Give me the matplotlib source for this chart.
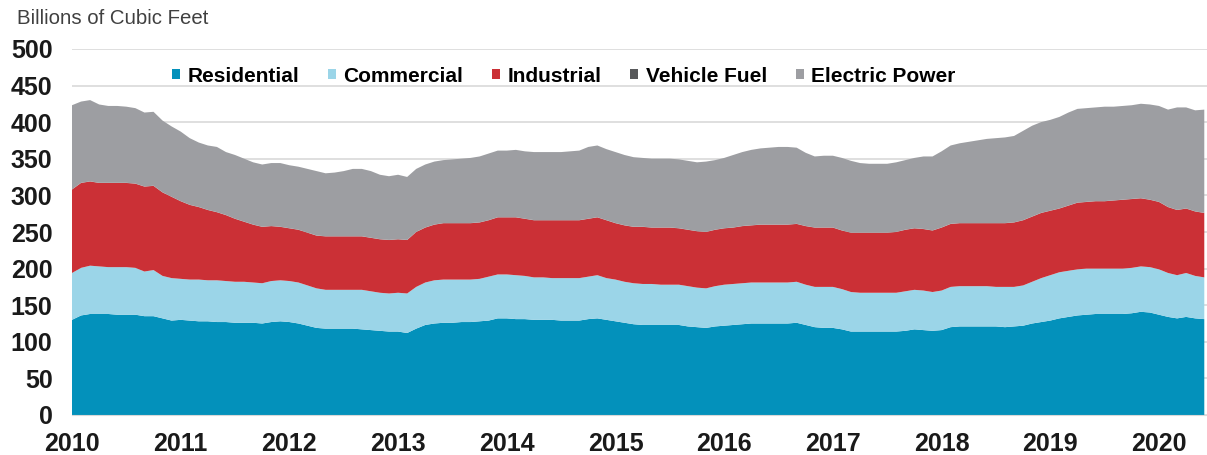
import numpy as np
import matplotlib
matplotlib.use("Agg")
import matplotlib.pyplot as plt

plt.rcParams['font.family'] = ['Liberation Sans', 'DejaVu Sans']

# monthly data, Jan 2010 .. Jun 2020 (Billions of Cubic Feet)
years = [2010, 2011, 2012, 2013, 2014, 2015, 2016, 2017, 2018, 2019, 2020]

residential = [
    130, 136, 138, 138, 138, 137, 137, 137, 135, 135, 132, 129,
    130, 129, 128, 128, 127, 127, 126, 126, 126, 125, 127, 128,
    127, 125, 122, 119, 118, 118, 118, 118, 117, 116, 115, 114,
    114, 112, 118, 123, 125, 126, 126, 127, 127, 128, 129, 132,
    132, 131, 131, 130, 130, 130, 129, 129, 129, 131, 132, 130,
    128, 126, 124, 123, 123, 123, 123, 123, 121, 120, 119, 121,
    122, 123, 124, 125, 125, 125, 125, 125, 126, 123, 120, 119,
    119, 117, 114, 114, 114, 114, 114, 114, 115, 117, 116, 115,
    116, 120, 121, 121, 121, 121, 121, 120, 121, 122, 125, 127,
    129, 132, 134, 136, 137, 138, 138, 138, 138, 139, 141, 140,
    137, 134, 132, 134, 132, 131,
]
commercial = [
    64, 65, 66, 65, 64, 65, 65, 64, 61, 63, 58, 58,
    56, 56, 57, 56, 57, 56, 56, 56, 55, 55, 56, 56,
    56, 56, 55, 54, 53, 53, 53, 53, 54, 53, 52, 52,
    53, 54, 57, 58, 59, 59, 59, 58, 58, 58, 60, 60,
    60, 60, 59, 58, 58, 57, 58, 58, 58, 58, 59, 57,
    57, 56, 56, 56, 56, 55, 55, 55, 55, 54, 54, 55,
    56, 56, 56, 56, 56, 56, 56, 56, 56, 55, 55, 56,
    56, 55, 54, 53, 53, 53, 53, 53, 54, 54, 54, 53,
    54, 55, 55, 55, 55, 55, 54, 55, 54, 55, 57, 60,
    62, 63, 63, 63, 63, 62, 62, 62, 62, 62, 62, 62,
    62, 60, 59, 60, 58, 57,
]
industrial = [
    114, 116, 115, 114, 115, 115, 115, 115, 116, 115, 114, 111,
    106, 102, 99, 96, 93, 90, 86, 82, 79, 77, 75, 73,
    72, 72, 72, 72, 73, 73, 73, 73, 73, 73, 73, 73,
    73, 73, 75, 75, 76, 77, 77, 77, 77, 77, 77, 78,
    78, 79, 78, 78, 78, 79, 79, 79, 79, 79, 79, 79,
    77, 77, 77, 78, 77, 78, 78, 77, 77, 77, 77, 77,
    77, 77, 78, 78, 79, 79, 79, 79, 79, 80, 81, 81,
    81, 80, 81, 82, 82, 82, 82, 83, 84, 84, 84, 84,
    86, 86, 86, 86, 86, 86, 87, 87, 88, 89, 89, 89,
    88, 87, 89, 91, 91, 92, 92, 93, 94, 94, 93, 92,
    92, 90, 89, 88, 88, 88,
]
vehicle_fuel = [
    0.2, 0.2, 0.2, 0.2, 0.2, 0.2, 0.2, 0.2, 0.2, 0.2, 0.2, 0.2,
    0.2, 0.2, 0.2, 0.2, 0.2, 0.2, 0.2, 0.2, 0.2, 0.2, 0.2, 0.2,
    0.2, 0.2, 0.2, 0.2, 0.2, 0.2, 0.2, 0.2, 0.2, 0.2, 0.2, 0.2,
    0.2, 0.2, 0.2, 0.2, 0.2, 0.2, 0.2, 0.2, 0.2, 0.2, 0.2, 0.2,
    0.2, 0.2, 0.2, 0.2, 0.2, 0.2, 0.2, 0.2, 0.2, 0.2, 0.2, 0.2,
    0.2, 0.2, 0.2, 0.2, 0.2, 0.2, 0.2, 0.2, 0.2, 0.2, 0.2, 0.2,
    0.2, 0.2, 0.2, 0.2, 0.2, 0.2, 0.2, 0.2, 0.2, 0.2, 0.2, 0.2,
    0.2, 0.2, 0.2, 0.2, 0.2, 0.2, 0.2, 0.2, 0.2, 0.2, 0.2, 0.2,
    0.2, 0.2, 0.2, 0.2, 0.2, 0.2, 0.2, 0.2, 0.2, 0.2, 0.2, 0.2,
    0.2, 0.2, 0.2, 0.2, 0.2, 0.2, 0.2, 0.2, 0.2, 0.2, 0.2, 0.2,
    0.2, 0.2, 0.2, 0.2, 0.2, 0.2,
]
electric_power = [
    115, 111, 111, 107, 105, 105, 104, 103, 101, 101, 98, 96,
    95, 91, 88, 88, 89, 86, 87, 86, 85, 85, 86, 87,
    86, 86, 87, 88, 86, 87, 89, 92, 92, 91, 88, 87,
    88, 86, 86, 86, 86, 86, 87, 88, 89, 90, 91, 91,
    91, 92, 92, 93, 93, 93, 93, 94, 95, 98, 98, 97,
    97, 96, 95, 94, 94, 94, 94, 94, 94, 94, 96, 95,
    96, 99, 101, 103, 104, 105, 106, 106, 104, 100, 97, 98,
    98, 99, 98, 95, 94, 94, 94, 95, 95, 96, 99, 101,
    104, 107, 109, 111, 113, 115, 116, 117, 118, 122, 124, 124,
    124, 125, 127, 128, 128, 128, 129, 128, 128, 128, 129, 130,
    131, 133, 140, 138, 138, 141,
]

labels = ['Residential', 'Commercial', 'Industrial', 'Vehicle Fuel', 'Electric Power']
colors = ['#0391bb', '#9bd5e8', '#cb3036', '#58595b', '#9d9ea2']

months = np.arange(len(residential))

fig = plt.figure(figsize=(12.07, 4.55), dpi=100)
ax = fig.add_axes([72 / 1207, 1 - 415 / 455, 1 - 72 / 1207, (415 - 49) / 455])

ax.stackplot(months, residential, commercial, industrial, vehicle_fuel, electric_power,
             colors=colors, labels=labels, linewidth=0, zorder=2)

ax.set_ylim(0, 500)
ax.set_xlim(0, 125.3)
ax.set_yticks(np.arange(0, 501, 50))
ax.set_xticks([12 * (y - 2010) for y in years])
ax.set_xticklabels([str(y) for y in years])
ax.grid(axis='y', color='#d9d9d9', linewidth=1.2, zorder=0)
ax.set_axisbelow(True)
for s in ['top', 'right', 'left']:
    ax.spines[s].set_visible(False)
ax.spines['bottom'].set_color('#d9d9d9')
ax.tick_params(length=0)
ax.tick_params(axis='y', pad=14)
ax.tick_params(axis='x', pad=12)
for t in ax.get_xticklabels() + ax.get_yticklabels():
    t.set_fontsize(18)
    t.set_fontweight('bold')
    t.set_color('#1a1a1a')

fig.text(17 / 1207, 1 - 18 / 455, 'Billions of Cubic Feet', fontsize=14.7,
         color='#404040', va='center', ha='left')

fig.legend(loc='center left', bbox_to_anchor=(172 / 1207, 1 - 76 / 455), ncol=5,
           frameon=False, handlelength=0.4, handleheight=0.4, handletextpad=0.35,
           columnspacing=1.37, borderpad=0, borderaxespad=0,
           prop={'size': 15, 'weight': 'bold'})

fig.savefig('out.png', dpi=100)
